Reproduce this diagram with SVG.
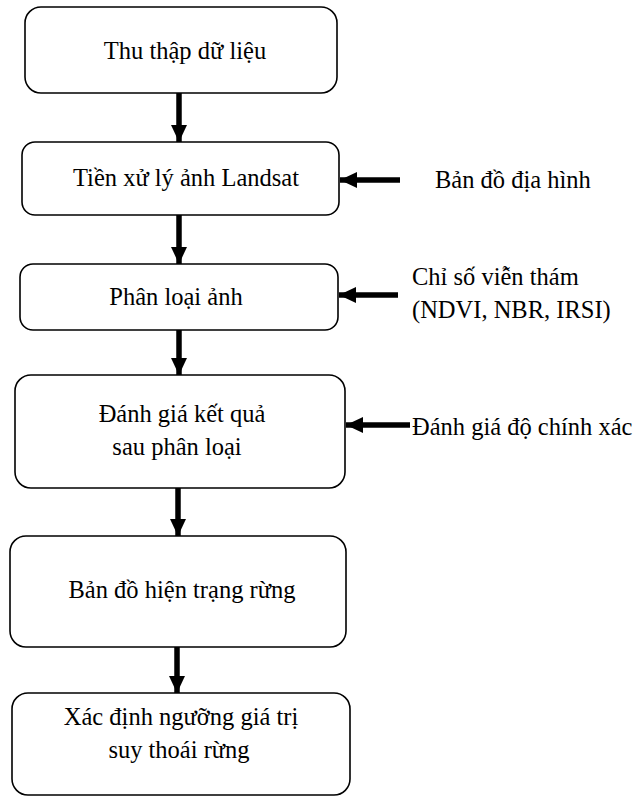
<svg xmlns="http://www.w3.org/2000/svg" width="637" height="797" viewBox="0 0 637 797">
<defs>
<marker id="ah" markerUnits="userSpaceOnUse" markerWidth="18" markerHeight="16" refX="17" refY="8" orient="auto">
<path d="M0,0 L17,8 L0,16 Z" fill="#000"/>
</marker>
<style>
.box{fill:#fff;stroke:#000;stroke-width:1.6}
.t{font-family:"Liberation Serif","Times New Roman",serif;font-size:24.5px;fill:#000}
.c{text-anchor:middle}
.arr{stroke:#000;stroke-width:5.5;fill:none}
</style>
</defs>
<rect width="637" height="797" fill="#fff"/>
<g id="connectors">
<line class="arr" x1="179" y1="93" x2="179" y2="142" marker-end="url(#ah)"/>
<line class="arr" x1="179" y1="215" x2="179" y2="264" marker-end="url(#ah)"/>
<line class="arr" x1="179" y1="330" x2="179" y2="375" marker-end="url(#ah)"/>
<line class="arr" x1="178" y1="488" x2="178" y2="536" marker-end="url(#ah)"/>
<line class="arr" x1="177" y1="647" x2="177" y2="693" marker-end="url(#ah)"/>
<line class="arr" x1="400" y1="180" x2="340" y2="180" marker-end="url(#ah)"/>
<line class="arr" x1="398" y1="295" x2="339" y2="295" marker-end="url(#ah)"/>
<line class="arr" x1="410" y1="425" x2="346" y2="425" marker-end="url(#ah)"/>
</g>
<g id="n1"><rect class="box" x="25" y="7" width="312" height="86" rx="16"/><text class="t c" x="185" y="59">Thu thập dữ liệu</text></g>
<g id="n2"><rect class="box" x="22" y="142" width="317" height="73" rx="13"/><text class="t c" x="186" y="186">Tiền xử lý ảnh Landsat</text></g>
<g id="n3"><rect class="box" x="20" y="264" width="318" height="66" rx="13"/><text class="t c" x="176" y="305">Phân loại ảnh</text></g>
<g id="n4"><rect class="box" x="15" y="375" width="330" height="113" rx="16"/><text class="t c" x="182" y="422">Đánh giá kết quả</text><text class="t c" x="177" y="455">sau phân loại</text></g>
<g id="n5"><rect class="box" x="10" y="536" width="336" height="111" rx="16"/><text class="t c" x="182" y="598">Bản đồ hiện trạng rừng</text></g>
<g id="n6"><rect class="box" x="12" y="693" width="338" height="102" rx="16"/><text class="t c" x="181" y="725">Xác định ngưỡng giá trị</text><text class="t c" x="179" y="758">suy thoái rừng</text></g>
<g id="s1"><text class="t" x="435" y="188">Bản đồ địa hình</text></g>
<g id="s2"><text class="t" x="412" y="285">Chỉ số viễn thám</text><text class="t" x="412" y="318">(NDVI, NBR, IRSI)</text></g>
<g id="s3"><text class="t" x="412" y="435">Đánh giá độ chính xác</text></g>
</svg>
